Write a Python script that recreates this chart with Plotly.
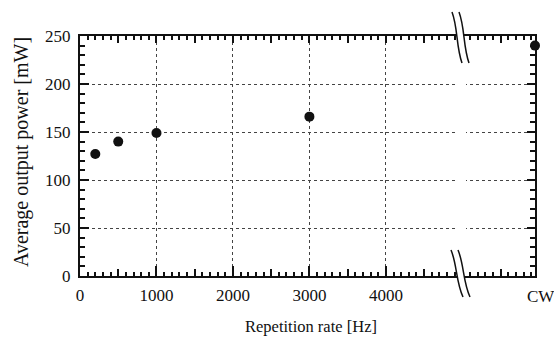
import plotly.graph_objects as go

# ---- data ----
rate_labels = ["200", "500", "1000", "3000", "CW"]
rate_hz = [200, 500, 1000, 3000]          # numeric repetition rates
power_mw = [127, 140, 149, 166, 240]      # average output power [mW]
x_ticks = [0, 1000, 2000, 3000, 4000]
x_tick_text = ["0", "1000", "2000", "3000", "4000"]
cw_label = "CW"
y_ticks = [0, 50, 100, 150, 200, 250]

# ---- layout geometry ----
W, H = 554, 338
L, R, T, B = 80, 19, 36, 62
PW, PH = W - L - R, H - T - B
X_END = 5950          # axis position used for the CW point (right edge)

def px(x):
    return (x - L) / PW

def py(y):
    return (T + PH - y) / PH

def path(points):
    (x0, y0), rest = points[0], points[1:]
    return f"M {px(x0)},{py(y0)} C " + " ".join(f"{px(a)},{py(b)}" for a, b in rest)

xpos = rate_hz + [X_END]
INK = "#111"
SERIF = "Liberation Serif, Times New Roman, serif"
font = dict(family=SERIF, color=INK, size=17)

x_minor = [v for v in range(0, X_END, 100)]
x_mid = [v for v in range(500, X_END, 1000)]
x_500 = [v for v in range(0, X_END, 500)]
y_minor = list(range(0, 251, 10))

def minor(vals, ln):
    return dict(tickmode="array", tickvals=vals, ticks="inside", ticklen=ln,
                tickwidth=2, tickcolor=INK, showgrid=False)

fig = go.Figure()
fig.add_trace(go.Scatter(x=xpos, y=power_mw, mode="markers",
                         marker=dict(color=INK, size=10),
                         cliponaxis=False, text=rate_labels, hoverinfo="text+y"))
fig.add_trace(go.Scatter(x=[0], y=[0], xaxis="x2", yaxis="y2", mode="markers",
                         marker=dict(opacity=0), hoverinfo="skip", showlegend=False))
fig.add_trace(go.Scatter(x=[0], y=[0], xaxis="x3", yaxis="y", mode="markers",
                         marker=dict(opacity=0), hoverinfo="skip", showlegend=False))

grid = dict(showgrid=True, gridcolor="#444", griddash="dot", gridwidth=1)
fig.update_layout(
    width=W, height=H, margin=dict(l=L, r=R, t=T, b=B),
    paper_bgcolor="white", plot_bgcolor="white", showlegend=False,
    font=font,
    xaxis=dict(range=[0, X_END], tickmode="array",
               tickvals=x_ticks + [X_END], ticktext=x_tick_text + [""],
               ticks="inside", ticklen=10, tickwidth=2, tickcolor=INK,
               minor=minor(x_minor, 4),
               showline=True, linecolor=INK, linewidth=2, zeroline=False,
               tickfont=dict(family=SERIF, color=INK, size=17),
               ticklabelstandoff=3, **grid),
    xaxis2=dict(range=[0, X_END], overlaying="x", side="top", anchor="y",
                tickmode="array", tickvals=x_500,
                showticklabels=False, ticks="inside", ticklen=7, tickwidth=2,
                tickcolor=INK, minor=minor(x_minor, 4),
                showline=True, linecolor=INK, linewidth=2,
                showgrid=False, zeroline=False),
    xaxis3=dict(range=[0, X_END], overlaying="x", side="bottom", anchor="y",
                tickmode="array", tickvals=x_mid,
                showticklabels=False, ticks="inside", ticklen=7, tickwidth=2,
                tickcolor=INK, showline=False, showgrid=False, zeroline=False),
    yaxis=dict(range=[0, 250], tickmode="array", tickvals=y_ticks,
               ticks="inside", ticklen=9, tickwidth=2, tickcolor=INK,
               minor=minor(y_minor, 5),
               showline=True, linecolor=INK, linewidth=2, zeroline=False,
               tickfont=dict(family=SERIF, color=INK, size=17),
               ticklabelstandoff=4, **grid),
    yaxis2=dict(range=[0, 250], overlaying="y", side="right", anchor="x",
                tickmode="array", tickvals=y_ticks, showticklabels=False,
                ticks="inside", ticklen=8, tickwidth=2, tickcolor=INK,
                minor=minor(y_minor, 5),
                showline=True, linecolor=INK, linewidth=2,
                showgrid=False, zeroline=False),
)

shapes = []
shapes.append(dict(type="rect", xref="paper", yref="paper",
                   x0=px(457), x1=px(466), y0=py(272), y1=py(40),
                   fillcolor="white", line=dict(width=0), layer="above"))
for (a, b, c, d) in [((452, 12), (458, 28), (456, 46), (462, 63)),
                     ((451, 250), (457, 264), (456, 282), (463, 297))]:
    sh = 7
    left = [a, b, c, d]
    right = [(x + sh, y) for x, y in left]
    fill = (path(left) + f" L {px(right[3][0])},{py(right[3][1])} C "
            + " ".join(f"{px(x)},{py(y)}" for x, y in [right[2], right[1], right[0]]) + " Z")
    shapes.append(dict(type="path", xref="paper", yref="paper", path=fill,
                       fillcolor="white", line=dict(width=0), layer="above"))
    for cur in (left, right):
        shapes.append(dict(type="path", xref="paper", yref="paper", path=path(cur),
                           line=dict(color=INK, width=1.5), layer="above"))
fig.update_layout(shapes=shapes)

fig.add_annotation(text=cw_label, xref="paper", yref="paper",
                   x=px(541), y=py(296), xanchor="center", yanchor="middle",
                   showarrow=False, font=dict(family=SERIF, size=17, color=INK))
fig.add_annotation(text="Average output power [mW]", xref="paper", yref="paper",
                   x=px(21), y=py(152), xanchor="center", yanchor="middle",
                   textangle=-90, showarrow=False,
                   font=dict(family=SERIF, size=20, color=INK))
fig.add_annotation(text="Repetition rate [Hz]", xref="paper", yref="paper",
                   x=px(311), y=py(326), xanchor="center", yanchor="middle",
                   showarrow=False,
                   font=dict(family=SERIF, size=16.5, color=INK))

fig.write_html("out.html")
